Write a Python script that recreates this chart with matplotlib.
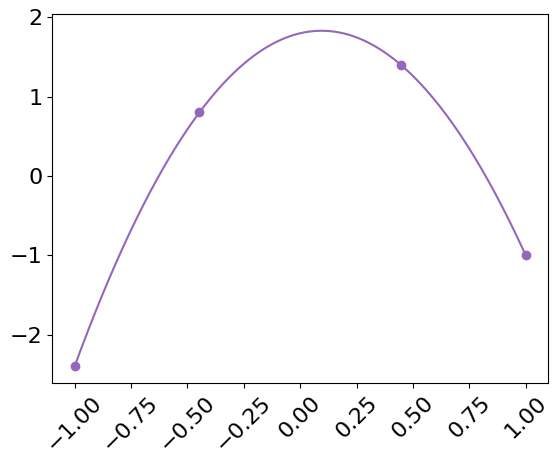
import numpy as np
import matplotlib.pyplot as plt

plt.rcParams['font.size'] = 16

# Interpolation nodes and values
nodes = [-1.0, -0.447, 0.447, 1.0]
values = [-2.4, 0.8, 1.4, -1.0]

# Polynomial through the nodes
coeffs = np.polyfit(nodes, values, len(nodes) - 1)
x_fine = np.linspace(-1, 1, 200)
y_fine = np.polyval(coeffs, x_fine)

fig, ax = plt.subplots(figsize=(5.6, 4.66), dpi=100)
ax.plot(x_fine, y_fine, color='tab:purple')
ax.plot(nodes, values, 'o', color='tab:purple')
ax.set_xticks(np.arange(-1.0, 1.01, 0.25))
ax.tick_params(axis='x', rotation=45)

fig.subplots_adjust(left=0.093, right=0.979, top=0.970, bottom=0.178)
plt.savefig('out.png', dpi=100)
